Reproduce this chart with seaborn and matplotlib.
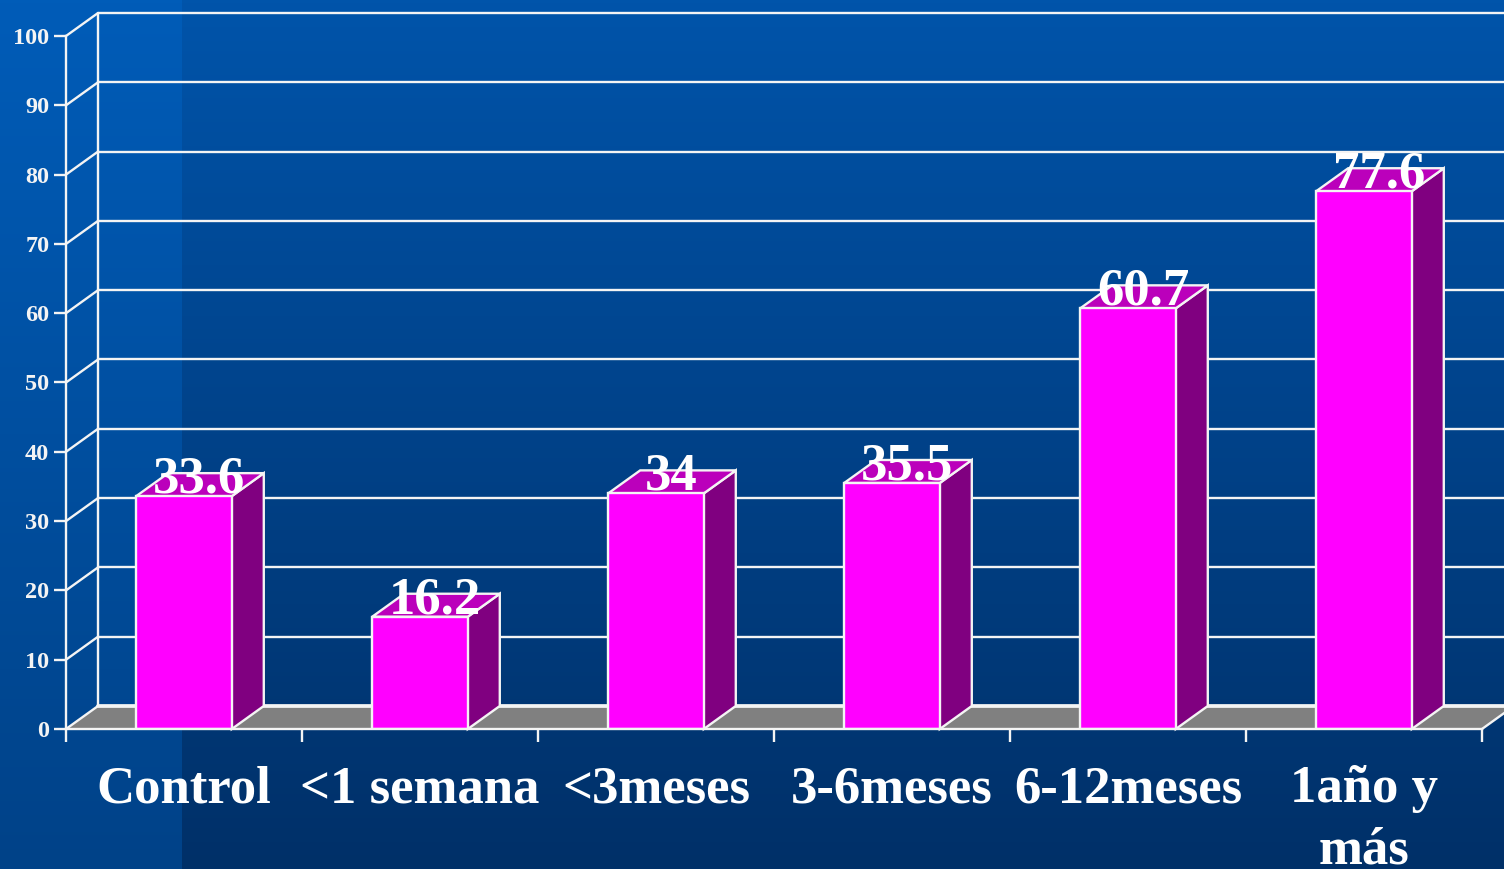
import numpy as np
import seaborn as sns
import matplotlib.pyplot as plt
from matplotlib.patches import Polygon

categories = ['Control', '<1 semana', '<3meses', '3-6meses', '6-12meses', '1año y\nmás']
values = [33.6, 16.2, 34, 35.5, 60.7, 77.6]
y_ticks = [0, 10, 20, 30, 40, 50, 60, 70, 80, 90, 100]

sns.set_style('white')
plt.rcParams['font.family'] = ['Liberation Serif', 'DejaVu Serif']
plt.rcParams['font.weight'] = 'bold'

# depth of the fake 3d box, in data units
dx = 32 / 236
dy = 23 / 6.93
WHITE = '#f4f4f4'
LW = 1.7

fig = plt.figure(figsize=(15.04, 8.69), dpi=100)

# background: two vertical gradients, lighter strip on the left
bg = fig.add_axes([0, 0, 1, 1], zorder=0)
bg.axis('off')
shade = np.linspace(0, 1, 256)[:, None]
left_c = np.array([0, 92, 184]) * (1 - shade) + np.array([0, 66, 136]) * shade
main_c = np.array([0, 84, 170]) * (1 - shade) + np.array([0, 48, 104]) * shade
img = np.zeros((256, 1504, 3))
img[:, :182] = left_c[:, None, :].reshape(256, 1, 3)
img[:, 182:] = main_c[:, None, :].reshape(256, 1, 3)
bg.imshow(img / 255, aspect='auto', extent=(0, 1, 0, 1))

ax = fig.add_axes([66 / 1504, 140 / 869, 1416 / 1504, 693 / 869], zorder=1)
ax.patch.set_alpha(0)

sns.barplot(x=categories, y=values, color='#ff00ff', saturation=1, width=0.405,
            edgecolor=WHITE, linewidth=LW, ax=ax, zorder=5)

ax.set_xlim(-0.5, 5.5)
ax.set_ylim(0, 100)

# floor
ax.add_patch(Polygon([(-0.5, 0), (-0.5 + dx, dy), (5.5 + dx, dy), (5.5, 0)], closed=True,
                     facecolor='#808080', edgecolor='none', clip_on=False, zorder=1))
ax.plot([-0.5 + dx, 5.5 + dx], [dy, dy], color=WHITE, lw=LW + 1, clip_on=False, zorder=2)
ax.plot([5.5, 5.5 + dx], [0, dy], color=WHITE, lw=LW, clip_on=False, zorder=2)

# back wall and side wall lines
for t in y_ticks:
    ax.plot([-0.5, -0.5 + dx], [t, t + dy], color=WHITE, lw=LW, clip_on=False, zorder=2)
    if t > 0:
        ax.plot([-0.5 + dx, 5.5 + dx], [t + dy, t + dy], color=WHITE, lw=LW, clip_on=False, zorder=2)
ax.plot([-0.5 + dx, -0.5 + dx], [dy, 100 + dy], color=WHITE, lw=LW, clip_on=False, zorder=2)

# side and top of every bar
for bar, v in zip(ax.patches, values):
    x0 = bar.get_x()
    x1 = x0 + bar.get_width()
    h = bar.get_height()
    ax.add_patch(Polygon([(x1, 0), (x1 + dx, dy), (x1 + dx, h + dy), (x1, h)], closed=True,
                         facecolor='#800080', edgecolor=WHITE, lw=LW, clip_on=False, zorder=4))
    ax.add_patch(Polygon([(x0, h), (x0 + dx, h + dy), (x1 + dx, h + dy), (x1, h)], closed=True,
                         facecolor='#bb00bb', edgecolor=WHITE, lw=LW, clip_on=False, zorder=4))
    ax.text((x0 + x1) / 2 + dx / 2 - 0.004, h + 0.5, f'{v:g}', ha='center', va='baseline',
            color='white', fontsize=38, fontweight='bold', zorder=8)

# ticks on the category edges, labels in the middle
ax.set_xticks(np.arange(-0.5, 6, 1))
ax.set_xticklabels([])
ax.set_xticks(range(len(categories)), labels=categories, minor=True)
ax.tick_params(axis='x', which='major', length=9, width=LW, color=WHITE, bottom=True)
ax.tick_params(axis='x', which='minor', length=0, pad=26, labelsize=38, labelcolor='white')
ax.set_yticks(y_ticks)
ax.tick_params(axis='y', length=9, width=LW, color=WHITE, left=True, pad=3,
               labelsize=17.5, labelcolor=WHITE)
for lab in ax.get_xticklabels(minor=True):
    lab.set_fontweight('bold')
    lab.set_linespacing(1.36)
for lab in ax.get_yticklabels():
    lab.set_fontweight('bold')

sns.despine(ax=ax, top=True, right=True)
for side in ['left', 'bottom']:
    ax.spines[side].set_color(WHITE)
    ax.spines[side].set_linewidth(LW)
    ax.spines[side].set_zorder(6)

plt.savefig('out.png', dpi=100)
